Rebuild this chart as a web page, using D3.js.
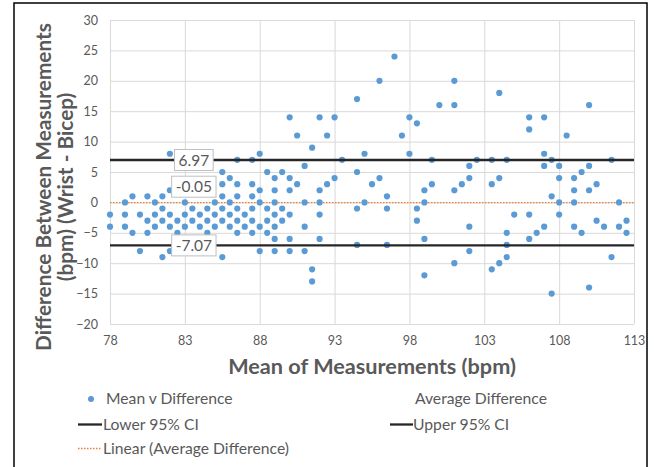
<!DOCTYPE html>
<html>
<head>
<meta charset="utf-8">
<script src="https://cdn.jsdelivr.net/npm/d3@7"></script>
<style>
  body { margin: 0; background: #fff; }
  text { font-family: Lato, "Open Sans", sans-serif; fill: #595959; }
</style>
</head>
<body>
<div class="chart"></div>
<script>
// tick labels
const xTicks = [78, 83, 88, 93, 98, 103, 108, 113];
const yTicks = [-20, -15, -10, -5, 0, 5, 10, 15, 20, 25, 30];

// mean of the two readings, and the differences found at that mean
const meanBins = [78, 79, 79.5, 80, 80.5, 81, 81.5, 82, 82.5, 83, 83.5, 84, 84.5, 85, 85.5,
  86, 86.5, 87, 87.5, 88, 88.5, 89, 89.5, 90, 90.5, 91, 91.5, 92, 92.5, 93, 93.5,
  94.5, 95, 95.5, 96, 96.5, 97, 97.5, 98, 98.5, 99, 99.5, 100, 101, 101.5, 102, 102.5,
  103.5, 104, 104.5, 105, 106, 106.5, 107, 107.5, 108, 108.5, 109, 109.5, 110, 110.5,
  111, 111.5, 112, 112.5];
const diffsAtMean = [
  [-2, -4], [0, -2, -4], [1, -5], [-2, -8], [1, -3, -5], [0, -2, -4], [1, -1, -3, -9],
  [8, 2, -2, -4, -8], [3, -3, -5], [0, -2, -4], [-1, -3], [-2, -4], [-1, -3, -5],
  [0, -2, -4], [5, 3, 1, -1, -3, -9],
  [4, 0, -2, -4], [7, 3, 1, -1, -3, -5], [-2, -4], [7, 3, 1, -1, -3, -5], [8, 2, 0, -4, -8],
  [5, -1, -3, -5], [4, 2, 0, -2, -4, -6, -8], [5, -1, -3], [14, 4, 2, -2, -6, -8], [11, 3],
  [6, 0, -4, -8], [9, -11, -13], [14, 2, 0, -2, -6], [11, 3], [14, 4], [7],
  [17, 5, -1, -7], [8, 0], [3], [20, 4], [1, -1, -7], [24], [11], [14, 8], [13, -1, -3],
  [2, 0, -6, -12], [7, 3], [16], [20, 16, 2, -10], [3], [6, 4, -4, -8], [7],
  [7, 3, -11], [18, 4, -10], [7, -5, -7, -9], [-2], [14, 12, -2, -6], [-5], [14, 8, 6, -4],
  [7, 1, -15], [6, 4, 0, -2], [11], [4, 2, 0, -4], [5, -5], [16, 6, 2, -14], [3, -3],
  [-4], [7, -9], [0, -4], [-3, -5]
];

// limits of agreement
const upperCI = 6.97;
const meanDiff = -0.05;
const lowerCI = -7.07;

const points = meanBins.flatMap((m, i) => diffsAtMean[i].map(d => ({ mean: m, diff: d })));

const W = 654, H = 467;
const plotL = 110, plotR = 634, plotT = 20, plotB = 324;

const svg = d3.select('.chart').append('svg')
  .attr('width', W)
  .attr('height', H);

svg.append('rect')
  .attr('width', W).attr('height', H)
  .attr('fill', '#fff');

// chart frame
svg.append('rect')
  .attr('x', 14).attr('y', 3)
  .attr('width', 633).attr('height', 470)
  .attr('fill', 'none')
  .attr('stroke', '#000')
  .attr('stroke-width', 1.5);

const x = d3.scaleLinear().domain([78, 113]).range([plotL, plotR]);
const y = d3.scaleLinear().domain([-20, 30]).range([plotB, plotT]);

// axes with gridlines
const gy = svg.append('g')
  .attr('transform', `translate(${plotL},0)`)
  .call(d3.axisLeft(y).tickValues(yTicks).tickSize(-(plotR - plotL)).tickPadding(12));
const gx = svg.append('g')
  .attr('transform', `translate(0,${plotB})`)
  .call(d3.axisBottom(x).tickValues(xTicks).tickSize(-(plotB - plotT)).tickPadding(12));

[gx, gy].forEach(g => {
  g.select('.domain').remove();
  g.selectAll('line').attr('stroke', '#d9d9d9').attr('stroke-width', 1);
  g.selectAll('text').attr('font-size', 12.5).attr('fill', '#595959');
});

// average difference (trendline)
svg.append('line')
  .attr('x1', plotL).attr('x2', plotR)
  .attr('y1', y(meanDiff)).attr('y2', y(meanDiff))
  .attr('stroke', '#ed7d31')
  .attr('stroke-width', 1.3)
  .attr('stroke-dasharray', '1.5,1.5');

// points
svg.append('g').selectAll('circle')
  .data(points)
  .enter().append('circle')
  .attr('cx', d => x(d.mean))
  .attr('cy', d => y(d.diff))
  .attr('r', 3.1)
  .attr('fill', '#5b9bd5');

// 95% limits
[upperCI, lowerCI].forEach(v => {
  svg.append('line')
    .attr('x1', plotL).attr('x2', plotR)
    .attr('y1', y(v)).attr('y2', y(v))
    .attr('stroke', '#262626')
    .attr('stroke-width', 2.3);
});

// value boxes
const labels = [
  { v: upperCI, dy: 0 },
  { v: meanDiff, dy: -16 },
  { v: lowerCI, dy: 0 }
];
labels.forEach(l => {
  const g = svg.append('g')
    .attr('transform', `translate(${x(83.6)},${y(l.v) + l.dy})`);
  const t = g.append('text')
    .text(l.v.toFixed(2))
    .attr('text-anchor', 'middle')
    .attr('dy', '0.36em')
    .attr('font-size', 15.5);
  const w = t.node().getComputedTextLength() + 8;
  g.insert('rect', 'text')
    .attr('x', -w / 2).attr('y', -10.5)
    .attr('width', w).attr('height', 21)
    .attr('fill', '#fff')
    .attr('stroke', '#bfbfbf');
});

// shrink or grow a text to a width
function fit(t, width) {
  const fs = +t.attr('font-size');
  t.attr('font-size', fs * width / t.node().getComputedTextLength());
  return t;
}

// axis titles
fit(svg.append('text')
  .text('Mean of Measurements (bpm)')
  .attr('x', (plotL + plotR) / 2).attr('y', 374)
  .attr('text-anchor', 'middle')
  .attr('font-weight', 'bold')
  .attr('font-size', 20), 288);

const yt = svg.append('g').attr('transform', 'translate(0,187) rotate(-90)');
const yt1 = fit(yt.append('text')
  .text('Difference Between Measurements')
  .attr('x', 0).attr('y', 51)
  .attr('text-anchor', 'middle')
  .attr('font-weight', 'bold')
  .attr('font-size', 20), 328);
yt.append('text')
  .text('(bpm) (Wrist - Bicep)')
  .attr('x', 0).attr('y', 73)
  .attr('text-anchor', 'middle')
  .attr('font-weight', 'bold')
  .attr('font-size', yt1.attr('font-size'));

// legend
const lg = svg.append('g');
lg.append('circle').attr('cx', 91).attr('cy', 399).attr('r', 3).attr('fill', '#5b9bd5');
const legendItems = [
  { t: 'Mean v Difference', x: 106, y: 404 },
  { t: 'Average Difference', x: 415, y: 404 },
  { t: 'Lower 95% CI', x: 103, y: 430 },
  { t: 'Upper 95% CI', x: 413, y: 430 },
  { t: 'Linear (Average Difference)', x: 103, y: 454 }
];
legendItems.forEach(d => {
  lg.append('text').text(d.t).attr('x', d.x).attr('y', d.y).attr('font-size', 15.7);
});
[[78, 102], [390, 413]].forEach(s => {
  lg.append('line')
    .attr('x1', s[0]).attr('x2', s[1])
    .attr('y1', 424.5).attr('y2', 424.5)
    .attr('stroke', '#262626').attr('stroke-width', 2.3);
});
lg.append('line')
  .attr('x1', 78).attr('x2', 102)
  .attr('y1', 448.5).attr('y2', 448.5)
  .attr('stroke', '#ed7d31').attr('stroke-width', 1.3)
  .attr('stroke-dasharray', '1.5,1.5');
</script>
</body>
</html>
